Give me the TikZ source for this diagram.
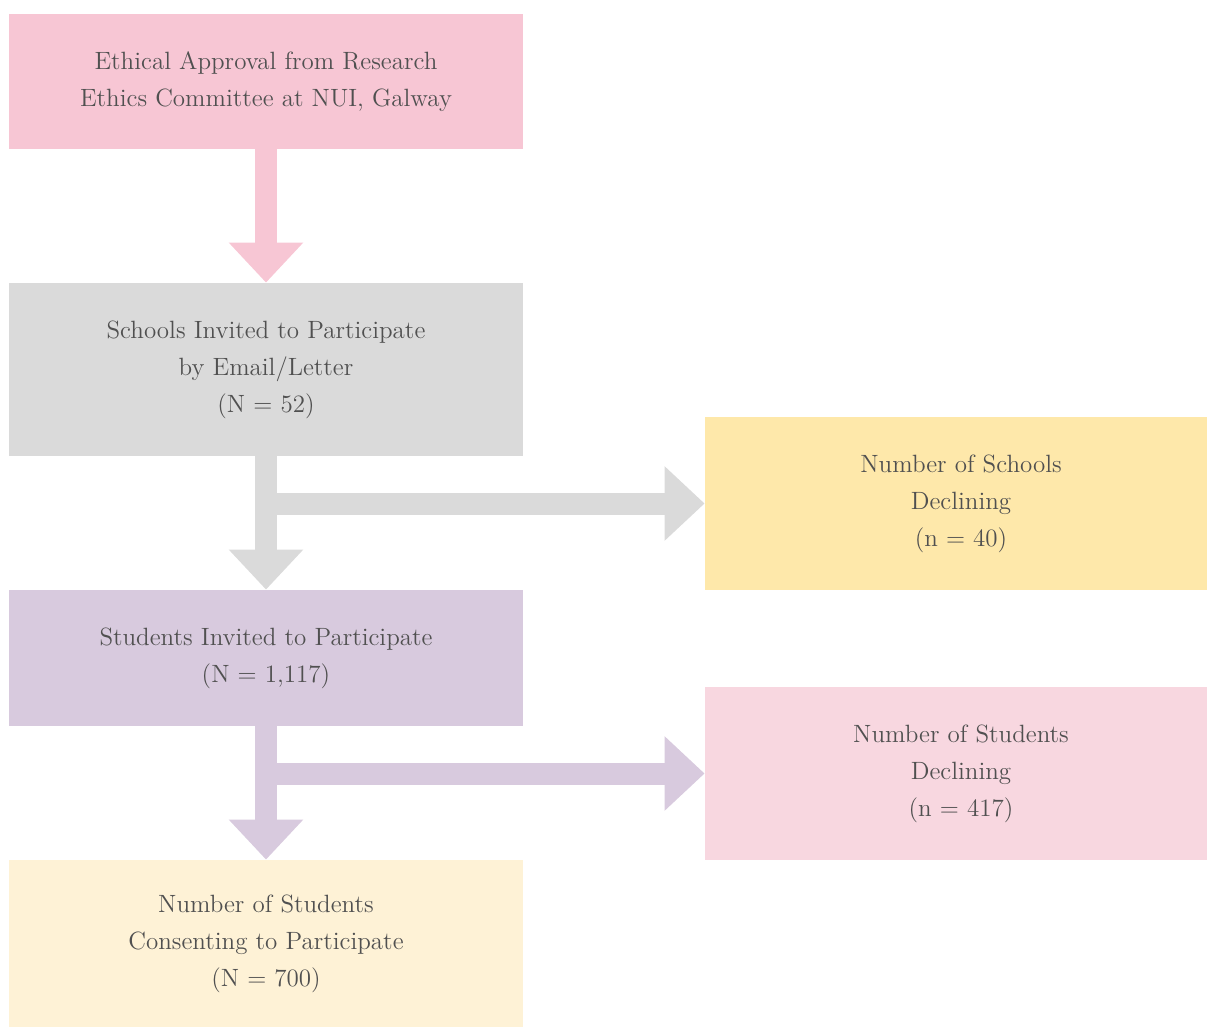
\documentclass[tikz,border=0pt]{standalone}
\usetikzlibrary{arrows.meta,calc}
\definecolor{pinkA}{HTML}{F7C6D4}
\definecolor{grayA}{HTML}{DADADA}
\definecolor{yellowA}{HTML}{FEE8AA}
\definecolor{purpleA}{HTML}{D8CADE}
\definecolor{pinkB}{HTML}{F8D7E0}
\definecolor{yellowB}{HTML}{FEF2D6}
\definecolor{txt}{HTML}{505050}
\begin{document}
\begin{tikzpicture}[x=0.5pt,y=-0.5pt,
  box/.style={rectangle,inner sep=0pt,align=center,text=txt,
    font=\fontsize{12.5}{18.5}\selectfont},
  wide/.style={minimum width=257pt},
  side/.style={minimum width=251pt},
  fat/.style={line width=11pt,-{Triangle[length=20pt,width=36pt]}}]
\useasboundingbox (0,0) rectangle (1208,1028);
\node[box,wide,fill=pinkA,minimum height=67.5pt] (b1) at (266,81.5)
  {Ethical Approval from Research\\Ethics Committee at NUI, Galway};
\node[box,wide,fill=grayA,minimum height=86.5pt] (b2) at (266,369.5)
  {Schools Invited to Participate\\by Email/Letter\\(N = 52)};
\node[box,side,fill=yellowA,minimum height=86.5pt] (b3) at (956,503.5)
  {\hspace*{5pt}Number of Schools\\\hspace*{5pt}Declining\\\hspace*{5pt}(n = 40)};
\node[box,wide,fill=purpleA,minimum height=68pt] (b4) at (266,658)
  {Students Invited to Participate\\(N = 1,117)};
\node[box,side,fill=pinkB,minimum height=86.5pt] (b5) at (956,773.5)
  {\hspace*{5pt}Number of Students\\\hspace*{5pt}Declining\\\hspace*{5pt}(n = 417)};
\node[box,wide,fill=yellowB,minimum height=83.5pt] (b6) at (266,943.5)
  {Number of Students\\Consenting to Participate\\(N = 700)};
\draw[fat,pinkA] (b1.south) -- (b2.north);
\draw[fat,grayA] (b2.south) -- (b4.north);
\draw[fat,grayA] (b2.south |- b3.west) -- (b3.west);
\draw[fat,purpleA] (b4.south) -- (b6.north);
\draw[fat,purpleA] (b4.south |- b5.west) -- (b5.west);
\end{tikzpicture}
\end{document}
